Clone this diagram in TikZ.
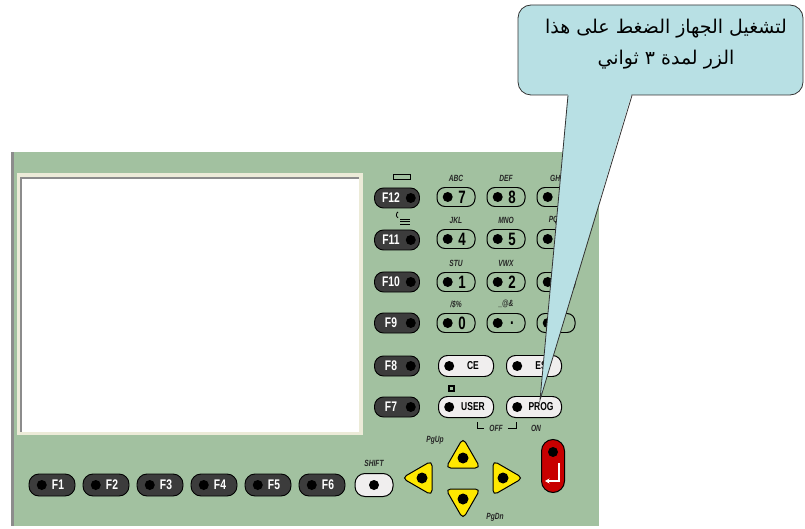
\documentclass[tikz,border=0pt]{standalone}
\usepackage{fontspec}
\setsansfont{Liberation Sans}
\newfontfamily\arabicfont[Script=Arabic]{DejaVu Sans}
\newfontfamily\narrowsans[FakeStretch=0.74]{Liberation Sans}
\TeXXeTstate=1
\usepackage{tikz}
\usetikzlibrary{arrows.meta,positioning,shapes.geometric}
\usepackage{xcolor}
\definecolor{panel}{RGB}{162,193,160}
\definecolor{keydark}{RGB}{60,60,60}
\definecolor{keywhite}{RGB}{240,238,238}
\definecolor{screenrim}{RGB}{236,235,216}
\definecolor{notefill}{RGB}{184,224,228}
\definecolor{arrowyel}{RGB}{255,232,0}
\definecolor{enterred}{RGB}{200,0,0}
\tikzset{
  fkey/.style    ={draw, fill=keydark, rounded corners=9bp, minimum width=45bp,
                   minimum height=20bp, inner sep=0pt, line width=0.9pt},
  botkey/.style  ={fkey, minimum width=46bp, minimum height=22bp,
                   rounded corners=10bp},
  numkey/.style  ={draw, fill=panel, rounded corners=8bp, minimum width=38bp,
                   minimum height=19bp, inner sep=0pt, line width=1pt},
  wkey/.style    ={draw, fill=keywhite, rounded corners=9bp, minimum width=55bp,
                   minimum height=21bp, inner sep=0pt, line width=1pt},
  kdot/.style    ={circle, fill=black, minimum size=10bp, inner sep=0pt},
  fktxt/.style   ={font=\narrowsans\bfseries\fontsize{14}{14}\selectfont,
                   text=white, inner sep=0pt},
  numtxt/.style  ={font=\narrowsans\bfseries\fontsize{18}{18}\selectfont,
                   inner sep=0pt},
  wtxt/.style    ={font=\narrowsans\bfseries\fontsize{11.5}{12}\selectfont,
                   inner sep=0pt},
  keylbl/.style  ={font=\narrowsans\bfseries\itshape\fontsize{9}{9}\selectfont,
                   inner sep=0pt, text=black!85},
  arrkey/.style  ={draw, fill=arrowyel, regular polygon, regular polygon sides=3,
                   minimum size=40bp, inner sep=0pt, rounded corners=5bp,
                   line width=1pt},
  notebox/.style ={draw=black!80, fill=notefill, rounded corners=13bp,
                   minimum width=285bp, minimum height=90bp, line width=0.8pt},
  notetxt/.style ={font=\arabicfont\fontsize{19}{31}\selectfont, align=center,
                   inner sep=0pt},
}

\begin{document}
\begin{tikzpicture}[x=1bp, y=-1bp]
  \useasboundingbox (0,0) rectangle (805,529);

  % keypad body and display
  \fill[panel] (11,152) rectangle (599,526);
  \fill[black!45] (11,152) rectangle (13.5,526);
  \fill[screenrim] (17,173) rectangle (363,435);
  \fill[black!45] (20,177) rectangle (359,432);
  \fill[white] (22,179) rectangle (359,432);

  % function keys F12..F7
  \foreach \k/\y in {12/198, 11/240, 10/282, 9/323, 8/366, 7/407} {
    \node[fkey] (f\k) at (397,\y) {};
    \node[fktxt] (f\k-t) at ([xshift=-6bp]f\k.center) {F\k};
    \node[kdot, left=4bp of f\k.east] (f\k-d) {};
  }
  \draw[line width=0.8pt] (393,174) rectangle (410,179);
  \draw[line width=0.8pt] (398,218) arc (120:240:3.5);
  \draw[line width=0.8pt] (400,219) -- (410,219) (400,221.5) -- (410,221.5)
    (400,224) -- (410,224);

  % number keys
  \foreach \d/\x/\y/\l in {7/456/197/ABC, 8/506/197/DEF, 4/456/239/JKL,
                           5/506/239/MNO, 1/456/282/STU, 2/506/282/VWX} {
    \node[numkey] (k\d) at (\x,\y) {};
    \node[kdot, right=6bp of k\d.west] (k\d-d) {};
    \node[numtxt] (k\d-t) at ([xshift=6bp]k\d.center) {\d};
    \node[keylbl, above=5bp of k\d] (k\d-l) {\l};
  }
  \foreach \d/\y/\l in {9/197/GHI, 6/239/PQR, 3/282/YZ} {
    \node[numkey] (k\d) at (556,\y) {};
    \node[kdot, right=6bp of k\d.west] (k\d-d) {};
    \node[keylbl, above=5bp of k\d] (k\d-l) {\l};
  }
  \node[numkey] (k0) at (456,323) {};
  \node[kdot, right=6bp of k0.west] (k0-d) {};
  \node[numtxt] (k0-t) at ([xshift=6bp]k0.center) {0};
  \node[keylbl, above=5bp of k0] (k0-l) {/\$\%};
  \node[numkey] (kpt) at (506,323) {};
  \node[kdot, right=6bp of kpt.west] (kpt-d) {};
  \node[numtxt] (kpt-t) at ([xshift=6bp]kpt.center) {.};
  \node[keylbl, above=5bp of kpt] (kpt-l) {\_@\&};
  \node[numkey] (kpm) at (556,323) {};
  \node[kdot, right=6bp of kpm.west] (kpm-d) {};

  % CE / ES / USER / PROG
  \foreach \n/\t/\x/\y in {ce/CE/466/366, es/ES/534/366,
                           user/USER/466/407, prog/PROG/534/407} {
    \node[wkey] (\n) at (\x,\y) {};
    \node[kdot, right=6bp of \n.west] (\n-d) {};
    \node[wtxt] (\n-t) at ([xshift=7bp]\n.center) {\t};
  }
  \draw[line width=1.2pt] (449,386) rectangle (454,391);
  \draw[line width=0.9pt] (477,422) |- (484,428) (508,428) -| (516,422);
  \node[keylbl] (off) at (496,428) {OFF};
  \node[keylbl] (on) at (536,428) {ON};

  % bottom row F1..F6 and SHIFT
  \foreach \k/\x in {1/52, 2/106, 3/160, 4/214, 5/268, 6/322} {
    \node[botkey] (f\k) at (\x,485) {};
    \node[kdot, right=8bp of f\k.west] (f\k-d) {};
    \node[fktxt] (f\k-t) at ([xshift=6bp]f\k.center) {F\k};
  }
  \node[wkey, minimum width=38bp, minimum height=23bp, rounded corners=10bp]
    (shift) at (374,485) {};
  \node[kdot] (shift-d) at (shift.center) {};
  \node[keylbl, above=6bp of shift] (shift-l) {SHIFT};

  % cursor keys
  \node[arrkey] (pgup) at (463,458) {};
  \node[arrkey, shape border rotate=180] (pgdn) at (463,499) {};
  \node[arrkey, shape border rotate=90] (pgl) at (422,478) {};
  \node[arrkey, shape border rotate=-90] (pgr) at (503,478) {};
  \foreach \n in {pgup, pgdn, pgl, pgr}
    \node[kdot, minimum size=11bp] (\n-d) at (\n.center) {};
  \node[keylbl] (pgup-l) at (435,440) {PgUp};
  \node[keylbl] (pgdn-l) at (495,517) {PgDn};

  % enter key
  \node[draw, fill=enterred, rounded corners=11.5bp, minimum width=23bp,
        minimum height=53bp, line width=1pt] (enter) at (553,466) {};
  \node[kdot, minimum size=10bp] (enter-d) at (553,452) {};
  \draw[white, line width=1.2pt, -{Stealth[length=4.5bp, width=5bp]}]
    (559,463) |- (545,481);

  % speech bubble
  \node[notebox] (note) at (660.5,50) {};
  \coordinate (tip) at (540,400);
  \fill[notefill] ([xshift=-92.5bp, yshift=3bp]note.south)
    -- ([xshift=-28.5bp, yshift=3bp]note.south) -- (tip) -- cycle;
  \draw[black!80, line width=0.8pt] ([xshift=-92.5bp]note.south) -- (tip)
    -- ([xshift=-28.5bp]note.south);
  \node[notetxt] (note-t) at (666,44)
    {\beginR لتشغيل الجهاز الضغط على هذا\endR\\
     \beginR الزر لمدة ٣ ثواني\endR};
\end{tikzpicture}
\end{document}
